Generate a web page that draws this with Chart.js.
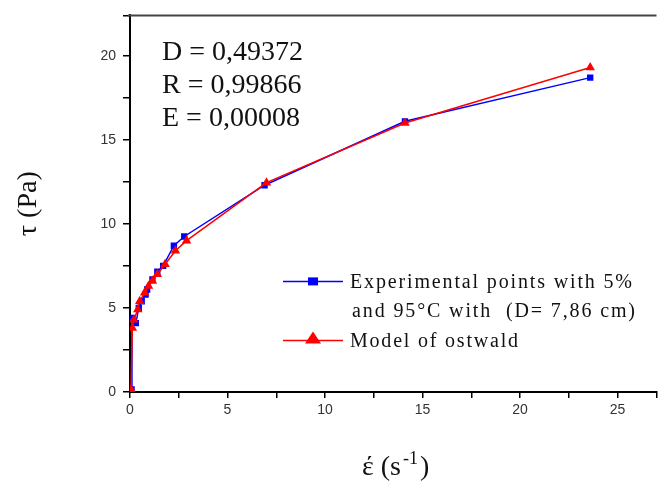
<!DOCTYPE html>
<html>
<head>
<meta charset="utf-8">
<script src="https://cdn.jsdelivr.net/npm/chart.js@4/dist/chart.umd.min.js"></script>
<style>
html, body { margin: 0; padding: 0; background: #fff; overflow: hidden; }
#wrap { width: 662px; height: 482px; }
</style>
</head>
<body>
<div id="wrap"><canvas id="graph" width="662" height="482"></canvas></div>
<script>
// vitesse de cisaillement (s-1) et contrainte (Pa)
var gammaExp = [0.08, 0.1, 0.3, 0.45, 0.6, 0.8, 0.88, 1.15, 1.4, 1.7, 2.25, 2.78, 6.9, 14.1, 23.6];
var tauExp = [0.15, 4.4, 4.1, 5.0, 5.4, 5.8, 6.1, 6.7, 7.15, 7.5, 8.7, 9.25, 12.3, 16.1, 18.7];
var gammaModele = [0.05, 0.12, 0.2, 0.4, 0.5, 0.75, 0.95, 1.15, 1.4, 1.8, 2.33, 2.9, 7.0, 14.1, 23.6];
var tauModele = [0.15, 3.8, 4.3, 4.9, 5.4, 5.9, 6.3, 6.6, 7.0, 7.6, 8.4, 9.0, 12.45, 16.0, 19.3];
var xTicks = [0, 5, 10, 15, 20, 25];
var yTicks = [0, 5, 10, 15, 20];
var parametres = ['D = 0,49372', 'R = 0,99866', 'E = 0,00008'];
var legendes = ['Experimental points with 5%', 'and 95\u00B0C with  (D= 7,86 cm)', 'Model of ostwald'];

function versPoints(xs, ys) {
    return xs.map(function (x, i) { return { x: x, y: ys[i] }; });
}

function texteEspace(ctx, txt, x, y, largeur) {
    ctx.letterSpacing = '0px';
    var w = ctx.measureText(txt).width;
    var sp = Math.max(0, (largeur - w) / (txt.length - 1));
    ctx.letterSpacing = sp + 'px';
    ctx.fillText(txt, x, y);
    ctx.letterSpacing = '0px';
}

var decor = {
    id: 'decor',
    afterDraw: function (chart) {
        var ctx = chart.ctx, a = chart.chartArea;
        ctx.save();
        // cadre du haut
        ctx.strokeStyle = '#444';
        ctx.lineWidth = 2;
        ctx.beginPath();
        ctx.moveTo(a.left - 2, a.top);
        ctx.lineTo(a.right, a.top);
        ctx.stroke();

        // parametres du modele
        ctx.fillStyle = '#111';
        ctx.textBaseline = 'alphabetic';
        ctx.font = '28px "Liberation Serif", "Times New Roman", serif';
        parametres.forEach(function (t, i) {
            ctx.fillText(t, a.left + 32, a.top + 45 + i * 33);
        });

        // legende
        var lx0 = a.left + 153, lx1 = a.left + 213, tx = a.left + 220;
        var rows = [a.top + 266, a.top + 295, a.top + 325];
        ctx.lineWidth = 1.5;
        ctx.strokeStyle = '#0000ff';
        ctx.beginPath(); ctx.moveTo(lx0, rows[0]); ctx.lineTo(lx1, rows[0]); ctx.stroke();
        ctx.fillStyle = '#0000ff';
        ctx.fillRect((lx0 + lx1) / 2 - 5, rows[0] - 4, 10, 8);
        ctx.strokeStyle = '#ff0000';
        ctx.beginPath(); ctx.moveTo(lx0, rows[2]); ctx.lineTo(lx1, rows[2]); ctx.stroke();
        ctx.fillStyle = '#ff0000';
        var cx = (lx0 + lx1) / 2;
        ctx.beginPath();
        ctx.moveTo(cx, rows[2] - 9);
        ctx.lineTo(cx + 8, rows[2] + 3);
        ctx.lineTo(cx - 8, rows[2] + 3);
        ctx.closePath();
        ctx.fill();

        ctx.fillStyle = '#111';
        ctx.font = '20px "Liberation Serif", "Times New Roman", serif';
        texteEspace(ctx, legendes[0], tx, rows[0] + 7, 282);
        texteEspace(ctx, legendes[1], tx + 2, rows[1] + 7, 283);
        texteEspace(ctx, legendes[2], tx, rows[2] + 7, 168);

        // titre axe x
        var x0 = a.left + 232, yb = a.bottom + 83;
        ctx.font = '28px "Liberation Serif", "Times New Roman", serif';
        ctx.fillText('\u03AD (s', x0, yb);
        var w = ctx.measureText('\u03AD (s').width + 2;
        ctx.font = '18px "Liberation Serif", "Times New Roman", serif';
        ctx.fillText('-1', x0 + w, yb - 11);
        w += ctx.measureText('-1').width + 2;
        ctx.font = '28px "Liberation Serif", "Times New Roman", serif';
        ctx.fillText(')', x0 + w, yb);
        ctx.restore();
    }
};

var ctx = document.getElementById('graph').getContext('2d');
var myChart = new Chart(ctx, {
    type: 'scatter',
    data: {
        datasets: [{
            label: legendes[0],
            data: versPoints(gammaExp, tauExp),
            borderColor: '#0000ff',
            backgroundColor: '#0000ff',
            pointStyle: 'rect',
            pointRadius: 4.5,
            pointBorderWidth: 0,
            borderWidth: 1.5,
            showLine: true,
            order: 2
        },
        {
            label: legendes[2],
            data: versPoints(gammaModele, tauModele),
            borderColor: '#ff0000',
            backgroundColor: '#ff0000',
            pointStyle: 'triangle',
            pointRadius: 5.5,
            pointBorderWidth: 0,
            borderWidth: 1.5,
            showLine: true,
            order: 1
        }]
    },
    options: {
        responsive: false,
        animation: false,
        devicePixelRatio: 1,
        layout: { padding: { top: 12, right: 0, left: 0, bottom: 0 } },
        plugins: {
            legend: { display: false },
            tooltip: { enabled: false }
        },
        elements: { line: { tension: 0 } },
        scales: {
            x: {
                type: 'linear',
                min: 0,
                max: 27,
                afterFit: function (s) { s.height = 90; },
                border: { display: true, color: '#000', width: 2 },
                grid: { drawOnChartArea: false, drawTicks: true, tickLength: 6, color: '#000', lineWidth: 1.5 },
                ticks: {
                    stepSize: 2.5,
                    autoSkip: false,
                    maxRotation: 0,
                    padding: 4,
                    color: '#333',
                    font: { family: '"Liberation Sans", Arial, sans-serif', size: 14 },
                    callback: function (v) { return xTicks.indexOf(v) >= 0 ? String(v) : ''; }
                }
            },
            y: {
                type: 'linear',
                min: 0,
                max: 22.4,
                afterFit: function (s) { s.width = 130; },
                border: { display: true, color: '#000', width: 2 },
                grid: { drawOnChartArea: false, drawTicks: true, tickLength: 7, color: '#000', lineWidth: 1.5 },
                ticks: {
                    stepSize: 2.5,
                    autoSkip: false,
                    padding: 7,
                    color: '#333',
                    font: { family: '"Liberation Sans", Arial, sans-serif', size: 14 },
                    callback: function (v) { return yTicks.indexOf(v) >= 0 ? String(v) : ''; }
                },
                title: {
                    display: true,
                    text: '\u03C4 (Pa)',
                    color: '#111',
                    padding: { top: 12, bottom: 0 },
                    font: { family: '"Liberation Serif", "Times New Roman", serif', size: 28 }
                }
            }
        }
    },
    plugins: [decor]
});
</script>
</body>
</html>
